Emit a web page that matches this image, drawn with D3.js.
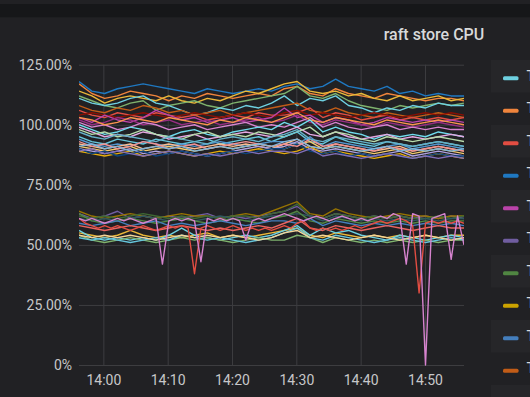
<!DOCTYPE html>
<html>
<head>
<meta charset="utf-8">
<script src="https://cdn.jsdelivr.net/npm/d3@7"></script>
<style>
  html, body { margin: 0; padding: 0; background: #212124; overflow: hidden; }
  svg { display: block; font-family: Roboto, "Noto Sans", sans-serif; }
</style>
</head>
<body>
<svg id="chart" width="530" height="397"></svg>
<script>
/* global d3 */

// time window shown on the x axis
const timeStart = new Date(2020, 0, 1, 13, 56, 13);
const timeEnd = new Date(2020, 0, 1, 14, 56, 4);
const yTicks = [0, 25, 50, 75, 100, 125];

// upper group, one value every 2 minutes (%)
const upperBand = [
  [118,114,113,115,116,117,116,115,114,113,115,114,113,114,115,114,116,117,115,116,119,116,115,114,116,113,114,112,113,112,112],
  [117,113,111,112,114,113,112,110,112,111,113,112,111,112,113,112,115,116,113,112,115,113,112,111,113,112,111,110,111,111,110],
  [114,112,109,111,112,111,110,112,110,109,111,110,112,114,113,115,117,118,114,113,114,112,113,111,110,112,110,111,112,110,111],
  [112,110,108,107,109,110,106,108,109,110,108,107,109,110,111,112,113,116,112,111,113,110,108,107,106,108,107,108,109,108,109],
  [111,109,108,109,111,112,109,108,106,104,105,107,106,108,107,109,112,108,111,110,112,108,107,105,107,106,108,107,109,108,108],
  [108,106,105,107,106,108,107,105,106,104,105,106,104,105,106,107,108,109,106,105,107,105,104,103,105,104,103,104,105,104,103],
  [106,104,103,105,104,103,105,104,103,104,102,103,104,103,105,104,104,105,107,103,105,104,102,103,104,102,103,102,103,102,103],
  [104,105,104,103,104,105,104,103,104,105,104,103,104,105,104,103,105,106,104,105,104,103,104,105,104,103,104,105,104,105,104],
  [103,101,104,102,101,103,106,104,102,103,101,102,103,101,102,103,107,103,104,101,103,102,100,101,103,102,101,102,101,102,101],
  [102,100,101,103,102,100,101,102,100,101,102,100,101,102,103,101,102,104,101,100,102,101,100,99,101,100,99,100,101,100,99],
  [101,99,100,98,99,101,100,98,99,100,98,99,100,101,99,100,99,101,103,99,101,99,98,99,100,98,99,98,99,98,98],
  [103,102,100,101,103,102,101,103,102,101,100,102,101,103,102,101,103,105,102,101,103,102,101,100,102,101,100,101,102,101,100],
  [100,98,96,97,99,98,96,95,97,98,96,95,97,98,99,98,101,99,102,97,99,97,96,94,96,95,96,95,97,96,95],
  [99,97,95,96,95,97,96,94,95,96,94,95,96,97,96,95,97,99,96,95,97,95,94,95,96,94,95,94,95,96,95],
  [98,96,97,95,96,98,96,95,94,96,97,95,96,95,97,96,95,97,99,95,97,96,94,93,95,94,93,94,95,94,93],
  [95,93,92,94,93,92,94,93,92,93,94,92,93,94,95,93,95,97,93,92,95,93,92,91,93,92,91,92,93,92,91],
  [94,92,91,92,91,93,92,91,92,91,92,93,92,91,92,93,93,92,95,91,93,92,91,90,91,92,90,91,92,91,90],
  [92,91,90,91,92,90,91,92,91,90,91,92,91,92,91,90,92,94,91,90,92,91,90,89,90,91,89,90,91,90,89],
  [91,90,89,90,91,89,90,91,90,89,90,91,90,91,92,91,90,92,93,90,91,90,89,88,89,90,88,89,90,89,88],
  [90,89,88,89,90,88,89,88,89,88,87,88,89,90,91,90,91,93,90,89,90,89,88,87,88,89,87,88,89,88,87],
  [89,88,87,88,89,87,88,89,88,87,88,89,88,89,90,89,88,89,91,88,89,88,87,86,87,88,86,87,88,87,86],
  [90,88,89,87,88,89,87,88,89,88,87,88,89,88,89,90,90,92,89,88,89,87,88,87,88,87,86,87,88,87,87],
  [93,91,92,90,91,93,92,90,91,92,90,91,92,93,92,91,92,91,94,91,92,91,90,89,91,90,89,90,91,90,89],
  [91,92,90,91,89,90,91,90,91,89,90,91,90,91,92,91,93,94,91,90,91,90,89,90,91,89,90,89,90,89,90],
  [89,90,88,89,88,87,88,89,88,87,88,87,88,89,88,89,89,88,90,87,88,87,86,87,88,87,86,87,86,87,86],
  [97,95,94,96,95,94,93,95,94,93,92,94,95,94,93,95,96,98,94,93,95,94,93,92,93,92,91,92,93,92,91]
];

// lower group, one value every 2 minutes (%)
const lowerBand = [
  [63,61,62,64,61,62,61,62,61,62,63,61,62,61,62,63,64,66,62,61,63,62,61,62,61,62,61,62,61,62,61],
  [64,62,61,62,63,62,61,62,63,62,62,61,62,63,62,64,66,68,63,62,65,63,62,61,62,63,62,62,61,62,62],
  [62,61,62,61,62,63,62,61,62,61,62,61,62,62,61,63,64,67,62,61,63,62,61,62,61,62,61,61,62,61,62],
  [61,60,61,60,61,62,61,60,61,60,61,62,61,60,61,62,62,63,62,60,62,61,60,61,60,61,60,61,60,61,61],
  [63,60,59,60,61,60,59,60,61,60,59,60,61,60,59,61,62,64,60,59,61,60,59,60,59,60,59,60,59,60,60],
  [59,58,59,60,58,59,60,58,59,58,59,60,59,58,59,60,60,59,61,58,60,59,58,59,58,59,58,59,58,59,58],
  [58,57,56,57,58,57,56,57,58,57,56,57,56,57,58,57,59,61,57,56,58,57,56,57,58,57,56,57,58,57,57],
  [55,54,53,54,56,54,53,54,53,54,55,53,54,53,54,55,56,57,54,53,55,54,53,54,53,54,53,54,53,54,54],
  [56,53,52,53,52,53,52,54,57,54,53,52,53,54,53,54,56,58,54,57,55,56,54,53,52,54,53,52,53,54,53],
  [54,52,51,52,53,52,51,52,53,52,53,52,51,52,53,52,52,54,53,51,53,52,51,52,51,52,51,52,51,52,52],
  [53,52,53,52,51,52,53,52,54,53,52,53,52,51,52,53,55,57,53,52,54,53,52,51,52,53,52,51,52,53,52],
  [54,53,54,53,54,53,52,53,54,53,54,53,54,53,52,53,55,56,53,54,53,52,53,54,53,52,53,54,53,52,53]
];

// two series with dips, one value every minute (%)
const spikyBand = [
  [61,59,58,57,58,57,58,57,56,57, 58,57,56,57,58,57,58,57,38,57, 58,57,56,57,58,57,56,57,56,57,
   56,57,58,57,59,60,57,56,57,56, 57,56,57,58,57,58,59,60,59,60, 61,60,58,30,59,60,59,60,59,60, 59],
  [61,60,61,60,59,60,61,60,61,60, 59,60,61,42,60,61,60,61,60,43, 61,60,61,60,61,60,52,60,61,60,
   61,62,63,62,61,60,61,62,61,60, 61,62,61,60,61,60,61,62,61,63, 62,42,63,62,0,61,62,63,44,62, 50]
];

const upperColors = ['#1F78C1','#EF843C','#EAB839','#7EB26D','#6ED0E0','#C15C17','#E24D42','#890F02',
  '#BA43A9','#962D82','#D683CE','#F9934E','#70DBED','#E5A8E2','#B7DBAB','#65C5DB','#5195CE','#F9BA8F',
  '#F2C96D','#AEA2E0','#E5AC0E','#0A437C','#F29191','#82B5D8','#806EB7','#64B0C8'];
const lowerColors = ['#705DA0','#967302','#3F6833','#2F575E','#508642','#447EBC','#EA6460','#EAB839',
  '#6ED0E0','#7EB26D','#65C5DB','#F4D598'];
const spikyColors = ['#E24D42','#D683CE'];
const legendColors = ['#6ED0E0','#EF843C','#E24D42','#1F78C1','#BA43A9','#705DA0','#508642','#CCA300','#447EBC','#C15C17'];

const width = 530;
const height = 397;
const plot = { left: 79, right: 464, top: 64.7, bottom: 365 };

const svg = d3.select('#chart');

// page strip above the panel
svg.append('rect').attr('width', width).attr('height', height).attr('fill', '#212124');
svg.append('rect').attr('y', 4).attr('width', width).attr('height', 13.3).attr('fill', '#161719');

svg.append('text')
  .attr('x', 434).attr('y', 40)
  .attr('text-anchor', 'middle')
  .attr('fill', '#d8d9da')
  .attr('font-size', 16)
  .attr('font-weight', 500)
  .text('raft store CPU');

const x = d3.scaleTime().domain([timeStart, timeEnd]).range([plot.left, plot.right]);
const y = d3.scaleLinear().domain([0, 125]).range([plot.bottom, plot.top]);

const yAxis = svg.append('g')
  .attr('transform', `translate(${plot.left},0)`)
  .call(d3.axisLeft(y)
    .tickValues(yTicks)
    .tickFormat(d => (d === 0 ? '0%' : `${d.toFixed(2)}%`))
    .tickSize(-(plot.right - plot.left))
    .tickPadding(7));

const xAxis = svg.append('g')
  .attr('transform', `translate(0,${plot.bottom})`)
  .call(d3.axisBottom(x)
    .ticks(d3.timeMinute.every(10))
    .tickFormat(d3.timeFormat('%H:%M'))
    .tickSize(-(plot.bottom - plot.top))
    .tickPadding(10));

[yAxis, xAxis].forEach((g) => {
  g.select('.domain').remove();
  g.selectAll('.tick line').attr('stroke', '#3d3d40').attr('stroke-width', 1);
  g.selectAll('.tick text')
    .attr('fill', '#c7c7c9')
    .attr('font-size', 14)
    .attr('font-family', 'Roboto, "Noto Sans", sans-serif');
});

svg.append('clipPath').attr('id', 'plot-clip')
  .append('rect')
    .attr('x', plot.left).attr('y', plot.top - 10)
    .attr('width', plot.right - plot.left)
    .attr('height', plot.bottom - plot.top + 12);

const lines = svg.append('g').attr('clip-path', 'url(#plot-clip)');

function drawBand(band, colors) {
  band.forEach((values, i) => {
    const step = (timeEnd - timeStart) / (values.length - 1);
    const line = d3.line()
      .x((d, j) => x(new Date(+timeStart + j * step)))
      .y(d => y(d));
    lines.append('path')
      .datum(values)
      .attr('fill', 'none')
      .attr('stroke', colors[i % colors.length])
      .attr('stroke-width', 1.4)
      .attr('stroke-linejoin', 'round')
      .attr('d', line);
  });
}

drawBand(lowerBand, lowerColors);
drawBand(spikyBand, spikyColors);
drawBand(upperBand, upperColors);

// legend, cut off by the right edge of the window as in the panel
const rowH = 32.5;
const legend = svg.append('g');
d3.range(11).forEach((i) => {
  const top = 60 + i * rowH;
  if (i % 2 === 0) {
    legend.append('rect')
      .attr('x', 491).attr('y', top)
      .attr('width', 40).attr('height', rowH)
      .attr('fill', '#262629');
  }
  if (i < legendColors.length) {
    const cy = top + 18.3;
    legend.append('rect')
      .attr('x', 503).attr('y', cy - 2)
      .attr('width', 15.5).attr('height', 4)
      .attr('rx', 1.5)
      .attr('fill', legendColors[i]);
    legend.append('text')
      .attr('x', 526.5).attr('y', cy + 2.4)
      .attr('fill', '#d8d9da')
      .attr('font-size', 14)
      .text('TiKV');
  }
});
</script>
</body>
</html>
